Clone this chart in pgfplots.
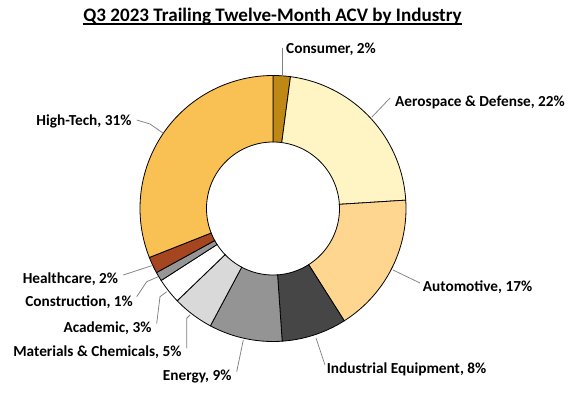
\documentclass[border=0pt]{standalone}
\usepackage{pgfplots}
\pgfplotsset{compat=1.18}
\usepgfplotslibrary{fillbetween}
\usepackage{fontspec}
\setmainfont{Carlito}

\definecolor{cConsumer}{RGB}{191,136,20}
\definecolor{cAero}{RGB}{255,245,196}
\definecolor{cAuto}{RGB}{254,214,144}
\definecolor{cIndus}{RGB}{70,70,70}
\definecolor{cEnergy}{RGB}{148,148,148}
\definecolor{cMat}{RGB}{217,217,217}
\definecolor{cAcad}{RGB}{255,255,255}
\definecolor{cConst}{RGB}{150,150,150}
\definecolor{cHealth}{RGB}{165,70,32}
\definecolor{cHigh}{RGB}{249,192,84}
\definecolor{leader}{RGB}{128,128,128}

\tikzset{lbl/.style={font=\bfseries\fontsize{15.3}{18}\selectfont, inner sep=0pt}}

\newcounter{segc}
\gdef\cum{0}
% #1 share (percent), #2 fill colour ; drawn clockwise from 12 o'clock
\newcommand\seg[2]{%
  \pgfmathsetmacro\aS{90-3.6*\cum}%
  \pgfmathsetmacro\cumN{\cum+#1}%
  \pgfmathsetmacro\aE{90-3.6*\cumN}%
  \xdef\cum{\cumN}%
  \stepcounter{segc}%
  \edef\doit{%
    \noexpand\addplot[draw=none, name path=o\thesegc, domain=\aE:\aS, samples=80] ({133*cos(x)},{133*sin(x)});
    \noexpand\addplot[draw=none, name path=i\thesegc, domain=\aE:\aS, samples=60] ({66.5*cos(x)},{66.5*sin(x)});
    \noexpand\addplot[fill=#2, draw=black, line width=0.8pt] fill between[of=o\thesegc\space and i\thesegc];
  }\doit}

\newcommand\ttl[1]{\leavevmode\setbox0\hbox{#1}\rlap{\copy0}\rule[-3.3pt]{\wd0}{1.5pt}}

\begin{document}
\begin{tikzpicture}
\begin{axis}[
  x=1pt, y=1pt,
  xmin=-273, xmax=300, ymin=-183.5, ymax=208.5,
  hide axis, clip=false,
]
\path (axis cs:-273,-183.5) rectangle (axis cs:300,208.5);

% shares (percent)
\seg{2.1}{cConsumer}
\seg{21.9}{cAero}
\seg{17.0}{cAuto}
\seg{7.9}{cIndus}
\seg{8.9}{cEnergy}
\seg{5.0}{cMat}
\seg{3.1}{cAcad}
\seg{1.1}{cConst}
\seg{2.0}{cHealth}
\seg{31.0}{cHigh}

% leader lines
\addplot[leader, line width=0.75pt, no marks] coordinates {(9,161) (9,131.5)};
\addplot[leader, line width=0.75pt, no marks] coordinates {(117,110.5) (99,91.5)};
\addplot[leader, line width=0.75pt, no marks] coordinates {(147,-74.5) (120,-61.5)};
\addplot[leader, line width=0.75pt, no marks] coordinates {(52,-156.5) (43,-129.5)};
\addplot[leader, line width=0.75pt, no marks] coordinates {(-36.3,-163.2) (-29.7,-131.5)};
\addplot[leader, line width=0.75pt, no marks] coordinates {(-86.3,-139.8) (-86.3,-109.8) (-83,-106.5)};
\addplot[leader, line width=0.75pt, no marks] coordinates {(-116.3,-115) (-113,-88.2) (-106.3,-83.2)};
\addplot[leader, line width=0.75pt, no marks] coordinates {(-136.3,-88.2) (-126.3,-73.2) (-114.7,-68.2)};
\addplot[leader, line width=0.75pt, no marks] coordinates {(-149.7,-66.5) (-121.3,-57.2)};
\addplot[leader, line width=0.75pt, no marks] coordinates {(-136.3,88.5) (-123,84.5) (-109.7,75.2)};

% labels
\node[lbl, anchor=base west] at (axis cs:13,155.2) {Consumer, 2\%};
\node[lbl, anchor=base west] at (axis cs:122,102.5) {Aerospace \& Defense, 22\%};
\node[lbl, anchor=base west] at (axis cs:149.7,-83.2) {Automotive, 17\%};
\node[lbl, anchor=base west] at (axis cs:53.7,-164.8) {Industrial Equipment, 8\%};
\node[lbl, anchor=base east] at (axis cs:-41.3,-171.5) {Energy, 9\%};
\node[lbl, anchor=base east] at (axis cs:-91.3,-148.2) {Materials \& Chemicals, 5\%};
\node[lbl, anchor=base east] at (axis cs:-121.3,-123.8) {Academic, 3\%};
\node[lbl, anchor=base east] at (axis cs:-140,-98.2) {Construction, 1\%};
\node[lbl, anchor=base east] at (axis cs:-154.7,-74.8) {Healthcare, 2\%};
\node[lbl, anchor=base east] at (axis cs:-141.3,83.5) {High-Tech, 31\%};

% title
\node[anchor=base, inner sep=0pt, font=\bfseries\fontsize{19.1}{22}\selectfont] at (axis cs:-0.5,187)
  {\ttl{Q3 2023 Trailing Twelve-Month ACV by Industry}};
\end{axis}
\end{tikzpicture}
\end{document}
